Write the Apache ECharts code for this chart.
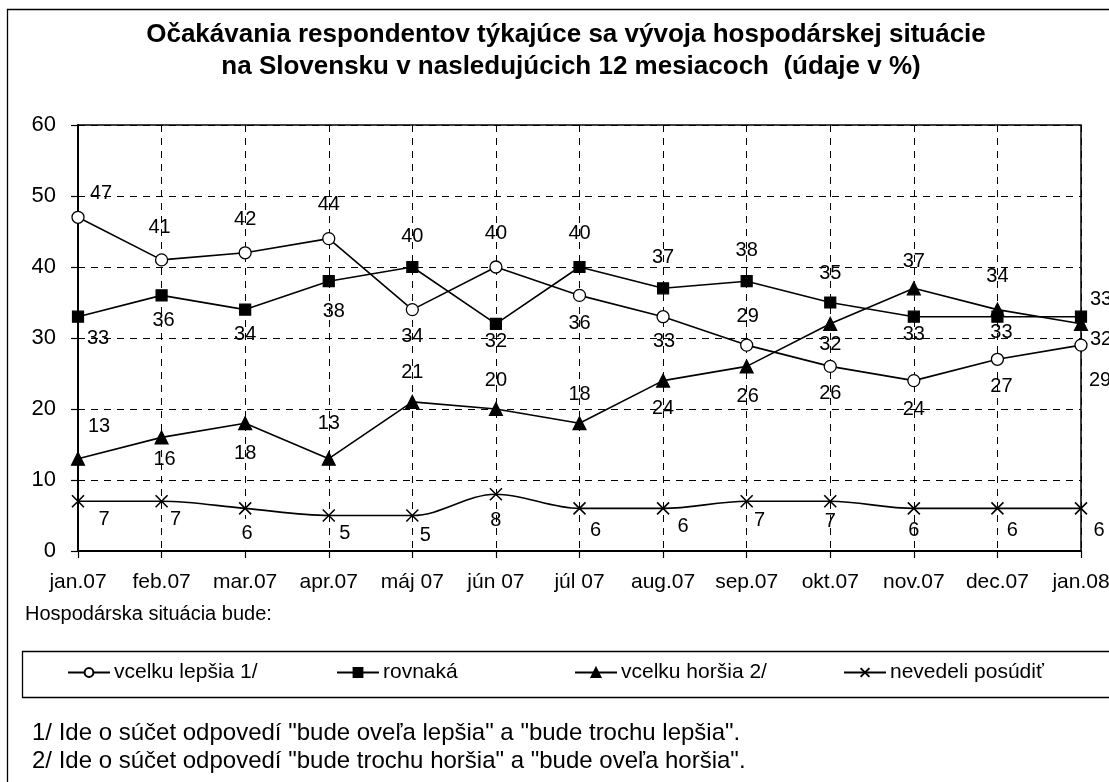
<!DOCTYPE html>
<html>
<head>
<meta charset="utf-8">
<script src="https://cdn.jsdelivr.net/npm/echarts@6/dist/echarts.min.js"></script>
<style>
html,body{margin:0;padding:0;background:#fff;}
#c{width:1109px;height:782px;}
</style>
</head>
<body>
<div id="c"></div>
<script>
var categories = ['jan.07','feb.07','mar.07','apr.07','máj 07','jún 07','júl 07','aug.07','sep.07','okt.07','nov.07','dec.07','jan.08'];
var lepsia   = [47,41,42,44,34,40,36,33,29,26,24,27,29];
var rovnaka  = [33,36,34,38,40,32,40,37,38,35,33,33,33];
var horsia   = [13,16,18,13,21,20,18,24,26,32,37,34,32];
var nevedeli = [7,7,6,5,5,8,6,6,7,7,6,6,6];
var yTicks = [0,10,20,30,40,50,60];
var seriesNames = ['vcelku lepšia 1/','rovnaká','vcelku horšia 2/','nevedeli posúdiť'];
var titleLines = ['Očakávania respondentov týkajúce sa vývoja hospodárskej situácie',
                  'na Slovensku v nasledujúcich 12 mesiacoch  (údaje v %)'];

// label placement (styling only): offsets [dx,dy] from each point
var labelOffsets = {
  lepsia:   [[23,-24],[-2,-32],[0,-33],[0,-34],[0,27],[0,-34],[0,28],[1,25],[1,-29],[0,27],[0,29],[4,27],[19,35]],
  rovnaka:  [[20,22],[2,25],[0,25],[5,30],[0,-31],[0,18],[0,-34],[0,-31],[0,-31],[0,-29],[0,18],[4,16],[20,-17]],
  horsia:   [[21,-32],[3,22],[0,30],[0,-35],[0,-29],[0,-29],[0,-29],[0,28],[1,30],[0,21],[0,-27],[0,-33],[20,16]],
  nevedeli: [[26,18],[14,18],[2,25],[16,18],[13,20],[0,26],[16,22],[20,18],[13,19],[0,20],[0,22],[15,22],[18,22]]
};
var whiteBgNevedeli = [2,3,4];

var FONT = 'Liberation Sans, Arial, sans-serif';
var labelFont = 20;

function buildData(values, offs, whiteIdx){
  return values.map(function(v,i){
    var lab = {offset: offs[i]};
    if (whiteIdx && whiteIdx.indexOf(i) >= 0){
      lab.backgroundColor = '#fff';
      lab.padding = [0,1,9,1];
    }
    return {value: v, label: lab};
  });
}

var crossPath = 'path://M0,0L10,10M10,0L0,10';

function mkSeries(name, values, offs, symbol, size, extra, whiteIdx){
  var s = {
    name: name,
    type: 'line',
    data: buildData(values, offs, whiteIdx),
    symbol: symbol,
    symbolSize: size,
    showAllSymbol: true,
    lineStyle: {color:'#000', width: 1.6},
    itemStyle: {color:'#000', borderColor:'#000', borderWidth: 1.2},
    label: {
      show: true, position: 'inside', color:'#000',
      fontFamily: FONT, fontSize: labelFont,
      align:'center', verticalAlign:'middle'
    },
    emphasis: {disabled: true},
    animation: false,
    z: 3
  };
  for (var k in extra) s[k] = extra[k];
  return s;
}

var series = [
  mkSeries(seriesNames[0], lepsia, labelOffsets.lepsia, 'circle', 12,
    {itemStyle:{color:'#fff', borderColor:'#000', borderWidth:1.3}}),
  mkSeries(seriesNames[1], rovnaka, labelOffsets.rovnaka, 'rect', 11, {}),
  mkSeries(seriesNames[2], horsia, labelOffsets.horsia, 'triangle', 13, {}),
  mkSeries(seriesNames[3], nevedeli, labelOffsets.nevedeli, crossPath, 12,
    {smooth: 0.35, itemStyle:{color:'none', borderColor:'#000', borderWidth:1.6}}, whiteBgNevedeli)
];

var legendLefts = [67, 336, 574, 843];
var legends = seriesNames.map(function(n, i){
  return {
    data: [n], left: legendLefts[i], top: 662, padding: 0, itemWidth: 42, itemHeight: 11, itemGap: 4,
    textStyle: {fontFamily: FONT, fontSize: 21, color:'#000', padding:[0,0,0,-1]},
    selectedMode: false
  };
});

var chart = echarts.init(document.getElementById('c'), null, {renderer:'canvas'});
chart.setOption({
  backgroundColor: '#fff',
  animation: false,
  legend: legends,
  grid: {left: 78, right: 28, top: 125, bottom: 231, outerBoundsMode: 'none', containLabel: false,
         show: true, borderColor:'#000', borderWidth: 1.5, backgroundColor:'transparent'},
  xAxis: {
    type: 'category', data: categories, boundaryGap: false,
    axisLine: {lineStyle:{color:'#000', width: 2}},
    axisTick: {show: true, length: 7, inside: false, lineStyle:{color:'#000', width: 1.2}, alignWithLabel: true},
    axisLabel: {fontFamily: FONT, fontSize: 21, color:'#000', margin: 21, interval: 0, hideOverlap: false},
    splitLine: {show: true, interval: 0, lineStyle:{color:'#000', type:[7,6], width: 1}}
  },
  yAxis: {
    type: 'value', min: yTicks[0], max: yTicks[yTicks.length-1], interval: 10,
    axisLine: {show: true, lineStyle:{color:'#000', width: 2}},
    axisTick: {show: true, length: 7, lineStyle:{color:'#000', width: 1.2}},
    axisLabel: {fontFamily: FONT, fontSize: 22, color:'#000', margin: 22},
    splitLine: {show: true, lineStyle:{color:'#000', type:[7,6], width: 1}}
  },
  series: series,
  graphic: [
    {type:'rect', shape:{x:7.5, y:9.5, width:1200, height:900}, style:{fill:'none', stroke:'#000', lineWidth:1.3}, silent:true, z:-1},
    {type:'rect', shape:{x:22.5, y:651.5, width:1200, height:46}, style:{fill:'none', stroke:'#000', lineWidth:1.3}, silent:true, z:-1},
    {type:'text', x: 566, y: 35, style:{text: titleLines[0], font:'bold 26px '+FONT, fill:'#000', textAlign:'center', textVerticalAlign:'middle'}},
    {type:'text', x: 571, y: 67, style:{text: titleLines[1], font:'bold 26px '+FONT, fill:'#000', textAlign:'center', textVerticalAlign:'middle'}},
    {type:'text', left: 25, top: 604, style:{text:'Hospodárska situácia bude:', font:'20px '+FONT, fill:'#000'}},
    {type:'text', left: 32, top: 721, style:{text:'1/ Ide o súčet odpovedí "bude oveľa lepšia" a "bude trochu lepšia".', font:'24px '+FONT, fill:'#000'}},
    {type:'text', left: 32, top: 749, style:{text:'2/ Ide o súčet odpovedí "bude trochu horšia" a "bude oveľa horšia".', font:'24px '+FONT, fill:'#000'}}
  ]
});
</script>
</body>
</html>
